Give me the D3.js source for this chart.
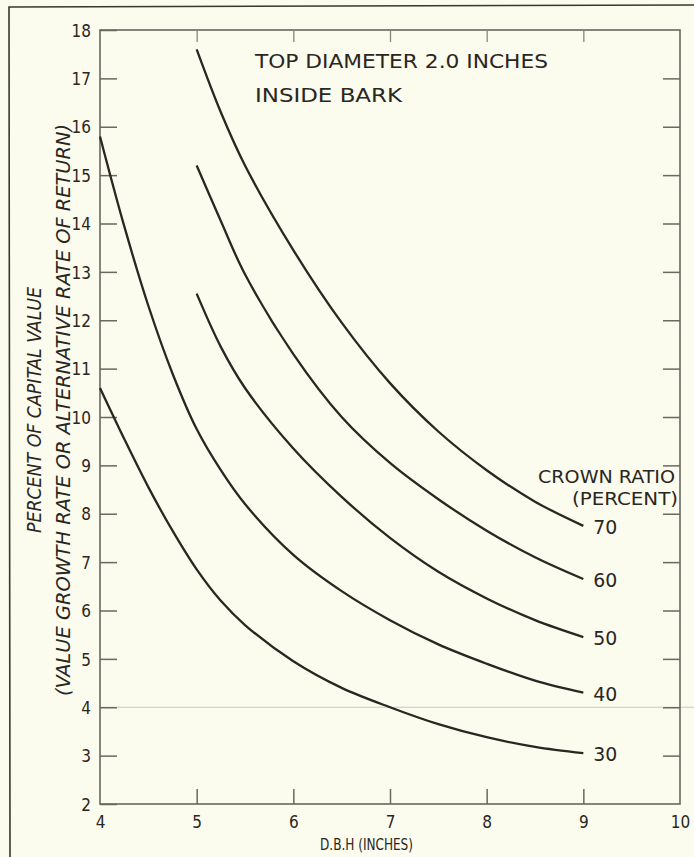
<!DOCTYPE html>
<html>
<head>
<meta charset="utf-8">
<script src="https://cdn.jsdelivr.net/npm/d3@7"></script>
<style>
  body { margin: 0; background: #fbfbee; }
  svg { display: block; }
  text { font-family: "DejaVu Sans Condensed", "DejaVu Sans", sans-serif; fill: #2a2621; }
</style>
</head>
<body>
<div id="chart"></div>
<script>
// values
var crownRatios = [70, 60, 50, 40, 30];

var dbh70 = [5, 5.25, 5.5, 6, 6.5, 7, 7.5, 8, 8.5, 9];
var pct70 = [17.6, 16.3, 15.2, 13.45, 11.95, 10.7, 9.7, 8.9, 8.25, 7.75];

var dbh60 = [5, 5.25, 5.5, 6, 6.5, 7, 7.5, 8, 8.5, 9];
var pct60 = [15.2, 14.05, 12.95, 11.3, 10.0, 9.05, 8.3, 7.65, 7.1, 6.65];

var dbh50 = [5, 5.25, 5.5, 6, 6.5, 7, 7.5, 8, 8.5, 9];
var pct50 = [12.55, 11.45, 10.6, 9.35, 8.35, 7.5, 6.8, 6.25, 5.8, 5.45];

var dbh40 = [4, 4.25, 4.5, 4.75, 5, 5.25, 5.5, 6, 6.5, 7, 7.5, 8, 8.5, 9];
var pct40 = [15.8, 13.95, 12.3, 10.9, 9.75, 8.9, 8.2, 7.15, 6.4, 5.8, 5.3, 4.9, 4.55, 4.3];

var dbh30 = [4, 4.25, 4.5, 4.75, 5, 5.25, 5.5, 6, 6.5, 7, 7.5, 8, 8.5, 9];
var pct30 = [10.6, 9.55, 8.55, 7.65, 6.85, 6.2, 5.7, 4.95, 4.4, 4.0, 3.65, 3.38, 3.18, 3.05];

var xTicks = [4, 5, 6, 7, 8, 9, 10];
var yTicks = d3.range(2, 19);

var series = [
  {ratio: crownRatios[0], x: dbh70, y: pct70},
  {ratio: crownRatios[1], x: dbh60, y: pct60},
  {ratio: crownRatios[2], x: dbh50, y: pct50},
  {ratio: crownRatios[3], x: dbh40, y: pct40},
  {ratio: crownRatios[4], x: dbh30, y: pct30}
];

var width = 694, height = 857;
var ink = "#2a2621", frameCol = "#6b6761";
var font = "DejaVu Sans Condensed, DejaVu Sans, sans-serif";

var svg = d3.select("#chart").append("svg")
    .attr("width", width)
    .attr("height", height);

svg.append("rect").attr("width", width).attr("height", height).attr("fill", "#fbfbee");

// page border of the scan
svg.append("path")
    .attr("d", "M10,857 L9,7 L694,5")
    .attr("fill", "none").attr("stroke", "#3a3630").attr("stroke-width", 1.6);

var x = d3.scaleLinear().domain([4, 10]).range([100, 680]);
var y = d3.scaleLinear().domain([2, 18]).range([804, 30]);

// faint line at 4 percent
svg.append("line")
    .attr("x1", x(4)).attr("x2", width)
    .attr("y1", y(4)).attr("y2", y(4))
    .attr("stroke", "#c8c8bd").attr("stroke-width", 1.2);

// frame
svg.append("rect")
    .attr("x", x(4)).attr("y", y(18))
    .attr("width", x(10) - x(4)).attr("height", y(2) - y(18))
    .attr("fill", "none").attr("stroke", frameCol).attr("stroke-width", 1.6);

// left axis
var leftAxis = svg.append("g")
    .attr("transform", "translate(" + x(4) + ",0)")
    .call(d3.axisLeft(y).tickValues(yTicks).tickSize(-17).tickPadding(9).tickFormat(d3.format("d")));
leftAxis.select(".domain").remove();
leftAxis.selectAll("line").attr("stroke", frameCol).attr("stroke-width", 1.5);
leftAxis.selectAll("text").attr("font-size", 17).style("fill", ink).attr("dy", "0.36em")
    .style("font-family", font);

// right axis (ticks only)
var rightAxis = svg.append("g")
    .attr("transform", "translate(" + x(10) + ",0)")
    .call(d3.axisRight(y).tickValues(yTicks.slice(1, -1)).tickSize(-17).tickFormat(""));
rightAxis.select(".domain").remove();
rightAxis.selectAll("line").attr("stroke", frameCol).attr("stroke-width", 1.5);

// bottom axis
var bottomAxis = svg.append("g")
    .attr("transform", "translate(0," + y(2) + ")")
    .call(d3.axisBottom(x).tickValues(xTicks).tickSize(0).tickFormat(d3.format("d")));
bottomAxis.select(".domain").remove();
bottomAxis.selectAll("text").attr("font-size", 17).attr("y", 24).attr("dy", 0).style("fill", ink)
    .style("font-family", font);
bottomAxis.selectAll(".tick").filter(function (d) { return d > 4 && d < 10; })
    .select("line").attr("y2", -15).attr("stroke", frameCol).attr("stroke-width", 1.5);

// top axis (ticks only)
var topAxis = svg.append("g")
    .attr("transform", "translate(0," + y(18) + ")")
    .call(d3.axisTop(x).tickValues(xTicks.slice(1, -1)).tickSize(-12).tickFormat(""));
topAxis.select(".domain").remove();
topAxis.selectAll("line").attr("stroke", "#8a867f").attr("stroke-width", 1.3);

// curves
var line = d3.line()
    .x(function (d) { return x(d[0]); })
    .y(function (d) { return y(d[1]); })
    .curve(d3.curveCatmullRom.alpha(0.5));

svg.append("g").selectAll("path")
    .data(series)
    .enter().append("path")
    .attr("d", function (s) { return line(d3.zip(s.x, s.y)); })
    .attr("fill", "none")
    .attr("stroke", ink)
    .attr("stroke-width", 2.3);

// curve labels
svg.append("g").selectAll("text")
    .data(series)
    .enter().append("text")
    .attr("x", function (s) { return x(s.x[s.x.length - 1]) + 10; })
    .attr("y", function (s) { return y(s.y[s.y.length - 1]) + 8; })
    .attr("font-size", 20)
    .attr("textLength", 24)
    .attr("lengthAdjust", "spacingAndGlyphs")
    .text(function (s) { return s.ratio; });

// legend heading
svg.append("text").attr("x", 538).attr("y", 483).attr("font-size", 17)
    .attr("textLength", 137).attr("lengthAdjust", "spacingAndGlyphs").text("CROWN RATIO");
svg.append("text").attr("x", 572).attr("y", 505).attr("font-size", 17)
    .attr("textLength", 106).attr("lengthAdjust", "spacingAndGlyphs").text("(PERCENT)");

// title
svg.append("text").attr("x", 255).attr("y", 68).attr("font-size", 20)
    .attr("textLength", 293).attr("lengthAdjust", "spacingAndGlyphs").text("TOP DIAMETER 2.0 INCHES");
svg.append("text").attr("x", 255).attr("y", 102).attr("font-size", 20)
    .attr("textLength", 147).attr("lengthAdjust", "spacingAndGlyphs").text("INSIDE BARK");

// x axis title
svg.append("text").attr("x", 320).attr("y", 850).attr("font-size", 16)
    .attr("textLength", 93).attr("lengthAdjust", "spacingAndGlyphs").text("D.B.H (INCHES)");

// y axis title
svg.append("text")
    .attr("transform", "translate(41,410) rotate(-90)")
    .attr("text-anchor", "middle")
    .attr("font-size", 19).attr("font-style", "italic")
    .attr("textLength", 246).attr("lengthAdjust", "spacingAndGlyphs")
    .text("PERCENT OF CAPITAL VALUE");
svg.append("text")
    .attr("transform", "translate(70,410) rotate(-90)")
    .attr("text-anchor", "middle")
    .attr("font-size", 19).attr("font-style", "italic")
    .attr("textLength", 572).attr("lengthAdjust", "spacingAndGlyphs")
    .text("(VALUE GROWTH RATE OR ALTERNATIVE RATE OF RETURN)");
</script>
</body>
</html>
